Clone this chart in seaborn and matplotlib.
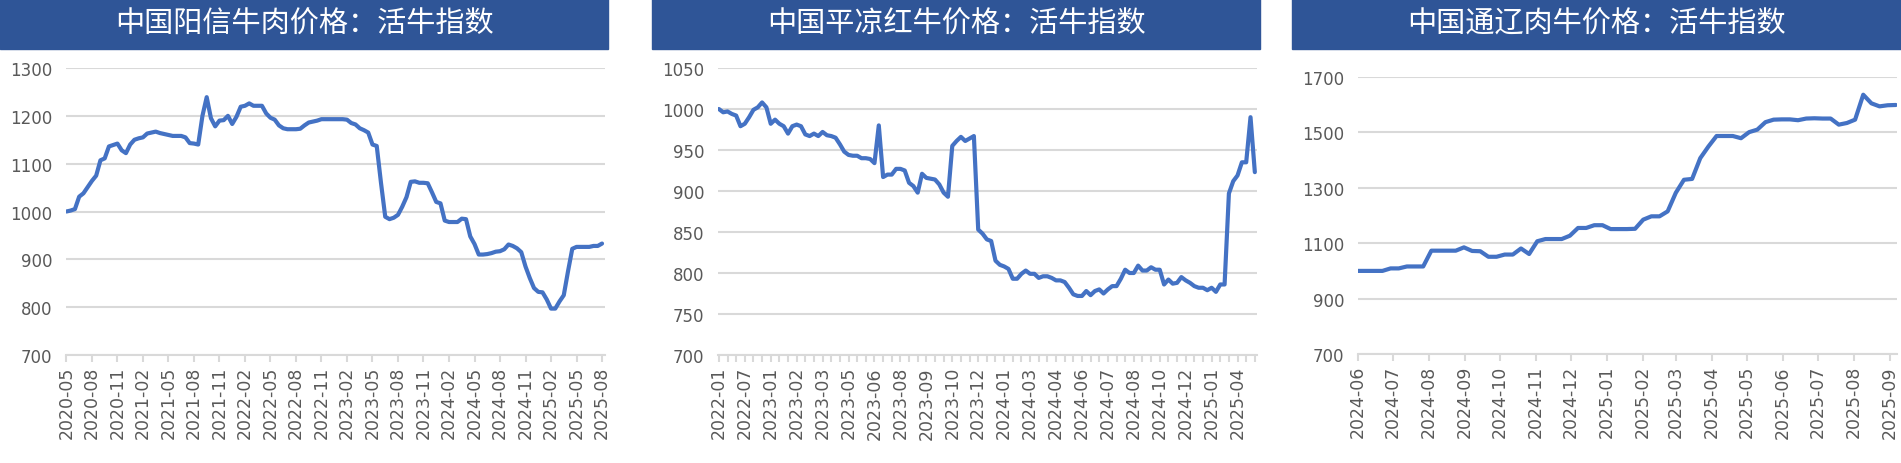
import numpy as np
import pandas as pd
import seaborn as sns
import matplotlib.pyplot as plt
import matplotlib.dates as mdates
from matplotlib.patches import Rectangle

sns.set_theme(style='white')
plt.rcParams['font.family'] = ['DejaVu Sans', 'Noto Sans CJK SC']

# ---- data ----
titles = ['中国阳信牛肉价格：活牛指数', '中国平凉红牛价格：活牛指数', '中国通辽肉牛价格：活牛指数']

# panel 1: semi-monthly points, a label every 6 points
labels_yangxin = ['2020-05', '2020-08', '2020-11', '2021-02', '2021-05', '2021-08', '2021-11',
                  '2022-02', '2022-05', '2022-08', '2022-11', '2023-02', '2023-05', '2023-08',
                  '2023-11', '2024-02', '2024-05', '2024-08', '2024-11', '2025-02', '2025-05',
                  '2025-08']
vals_yangxin = [1000, 1002, 1005, 1031, 1038, 1051, 1064, 1075, 1107, 1111, 1136, 1139, 1142, 1128,
                1122, 1140, 1150, 1153, 1155, 1163, 1165, 1167, 1164, 1162, 1160, 1158, 1158, 1158,
                1155, 1143, 1142, 1140, 1200, 1239, 1195, 1178, 1190, 1191, 1200, 1183, 1198, 1219,
                1221, 1226, 1221, 1221, 1221, 1205, 1196, 1192, 1180, 1174, 1172, 1172, 1172, 1173,
                1180, 1186, 1188, 1190, 1193, 1193, 1193, 1193, 1193, 1193, 1192, 1185, 1182, 1174,
                1170, 1165, 1140, 1137, 1060, 989, 984, 987, 993, 1010, 1030, 1062, 1063, 1060,
                1060, 1059, 1040, 1020, 1017, 981, 978, 978, 978, 985, 984, 948, 932, 910, 910,
                911, 913, 916, 917, 921, 931, 928, 923, 915, 885, 861, 840, 832, 831, 816, 797,
                797, 812, 825, 875, 922, 926, 926, 926, 926, 928, 928, 933]

# panel 2: category axis, a label every 6 points, a tick every 2
labels_pingliang = ['2022-01', '2022-07', '2023-01', '2023-02', '2023-03', '2023-05', '2023-06',
                    '2023-08', '2023-09', '2023-10', '2023-12', '2024-01', '2024-03', '2024-04',
                    '2024-06', '2024-07', '2024-08', '2024-10', '2024-12', '2025-01', '2025-04']
vals_pingliang = [1000, 996, 997, 994, 992, 979, 982, 990, 999, 1002, 1008, 1002, 982, 987, 982,
                  979, 970, 979, 981, 979, 969, 967, 970, 967, 972, 968, 967, 965, 957, 948, 944,
                  943, 943, 940, 940, 939, 934, 980, 917, 920, 920, 927, 927, 925, 910, 906, 898,
                  921, 916, 915, 914, 908, 898, 893, 955, 961, 966, 961, 964, 967, 853, 848, 841,
                  839, 815, 810, 808, 805, 793, 793, 799, 803, 799, 799, 794, 796, 796, 794, 791,
                  791, 789, 782, 774, 772, 772, 778, 773, 778, 780, 775, 780, 784, 784, 793, 804,
                  800, 800, 809, 803, 803, 807, 804, 804, 786, 792, 787, 788, 795, 791, 788, 784,
                  782, 782, 779, 782, 777, 786, 786, 897, 912, 919, 935, 935, 990, 923]

# panel 3: weekly points on a date axis
start_tongliao = '2024-06-01'
vals_tongliao = [1000, 1000, 1000, 1000, 1009, 1009, 1016, 1016, 1016, 1073, 1073, 1073, 1073, 1085,
                 1072, 1071, 1051, 1051, 1059, 1059, 1081, 1061, 1107, 1115, 1115, 1115, 1127, 1155,
                 1155, 1165, 1165, 1151, 1151, 1151, 1152, 1185, 1197, 1197, 1215, 1282, 1329, 1332,
                 1407, 1449, 1487, 1487, 1487, 1479, 1501, 1510, 1537, 1546, 1547, 1547, 1544, 1550,
                 1551, 1550, 1550, 1528, 1534, 1546, 1636, 1605, 1594, 1598, 1599]

LINE = '#4472C4'
GRID = '#D9D9D9'
TXT = '#595959'
BAR = '#2F5597'

W, H = 1901, 464
fig = plt.figure(figsize=(W / 100, H / 100), dpi=100)


def make_ax(l, r, t, b):
    return fig.add_axes([l / W, (H - b) / H, (r - l) / W, (b - t) / H])


def title_bar(x0, x1, text):
    fig.add_artist(Rectangle((x0 / W, (H - 50) / H), (x1 - x0) / W, 50 / H,
                             transform=fig.transFigure, color=BAR, zorder=0))
    fig.text((x0 + x1) / 2 / W, (H - 25) / H, text, ha='center', va='center', color='white',
             fontsize=21, family=['Noto Sans CJK SC'])


def style(ax, yticks):
    ax.set_ylim(yticks[0], yticks[-1])
    ax.set_yticks(yticks)
    ax.grid(axis='y', color=GRID, lw=1.5)
    ax.grid(axis='x', visible=False)
    ax.set_axisbelow(True)
    for s in ['top', 'right', 'left']:
        ax.spines[s].set_visible(False)
    ax.spines['bottom'].set_color(GRID)
    ax.spines['bottom'].set_linewidth(1.5)
    ax.tick_params(axis='y', length=0, pad=10, labelsize=12, labelcolor=TXT)
    ax.tick_params(axis='x', which='both', length=5, width=1.5, color=GRID, pad=3,
                   labelsize=12.5, labelcolor=TXT, labelrotation=90, bottom=True)
    ax.set_xlabel('')
    ax.set_ylabel('')


# panel 1
ax1 = make_ax(66, 605, 69, 356)
x1 = np.arange(len(vals_yangxin))
sns.lineplot(x=x1, y=vals_yangxin, ax=ax1, color=LINE, linewidth=3)
ax1.set_xlim(-0.1, 126.7)
ax1.set_xticks(np.arange(0, len(labels_yangxin) * 6, 6))
ax1.set_xticklabels(labels_yangxin)
style(ax1, list(range(700, 1301, 100)))
title_bar(0, 608, titles[0])

# panel 2
ax2 = make_ax(718, 1257, 69, 356)
x2 = np.arange(len(vals_pingliang))
sns.lineplot(x=x2, y=vals_pingliang, ax=ax2, color=LINE, linewidth=3)
ax2.set_xlim(-0.2, 124.5)
ax2.set_xticks(np.arange(0, len(labels_pingliang) * 6, 6))
ax2.set_xticklabels(labels_pingliang)
ax2.set_xticks(np.arange(0, len(vals_pingliang), 2), minor=True)
style(ax2, list(range(700, 1051, 50)))
title_bar(652, 1260, titles[1])

# panel 3
ax3 = make_ax(1358, 1897, 78, 355)
d3 = pd.date_range(start_tongliao, periods=len(vals_tongliao), freq='7D')
sns.lineplot(x=d3, y=vals_tongliao, ax=ax3, color=LINE, linewidth=3)
ax3.set_xlim(d3[0], d3[0] + pd.Timedelta(days=463))
ax3.xaxis.set_major_locator(mdates.MonthLocator())
ax3.xaxis.set_major_formatter(mdates.DateFormatter('%Y-%m'))
style(ax3, list(range(700, 1701, 200)))
title_bar(1292, 1901, titles[2])

fig.savefig('out.png', dpi=100)
